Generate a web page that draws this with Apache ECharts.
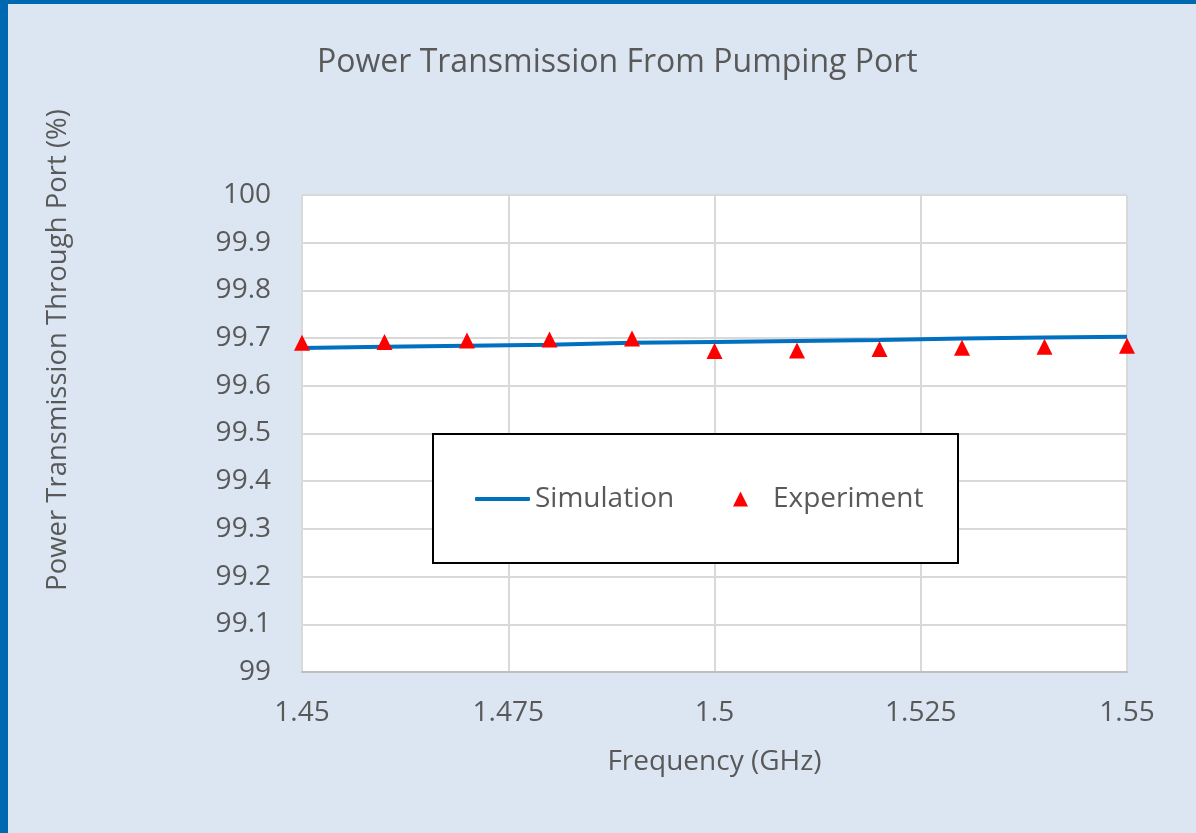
<!DOCTYPE html>
<html>
<head>
<meta charset="utf-8">
<script src="https://cdn.jsdelivr.net/npm/echarts@6/dist/echarts.min.js"></script>
<style>
  html, body { margin: 0; padding: 0; background: #dce6f2; }
  #chart { position: absolute; left: 0; top: 0; width: 1196px; height: 833px; }
  .edge { position: absolute; background: #0068b1; }
</style>
</head>
<body>
<div id="chart"></div>
<div class="edge" style="left:0;top:0;width:1196px;height:4px"></div>
<div class="edge" style="left:0;top:0;width:8px;height:833px"></div>
<script>
const frequency = [1.45, 1.46, 1.47, 1.48, 1.49, 1.50, 1.51, 1.52, 1.53, 1.54, 1.55];
const simulation = [99.679, 99.682, 99.684, 99.686, 99.690, 99.692, 99.694, 99.696, 99.699, 99.701, 99.703];
const experiment = [99.690, 99.692, 99.695, 99.697, 99.699, 99.673, 99.674, 99.677, 99.680, 99.682, 99.684];

const font = '"Open Sans", "Noto Sans", sans-serif';
const grey = '#595959';

const pairs = (xs, ys) => xs.map((x, i) => [x, ys[i]]);

const chart = echarts.init(document.getElementById('chart'));
chart.setOption({
  backgroundColor: '#dce6f2',
  animation: false,
  title: {
    text: 'Power Transmission From Pumping Port',
    left: 317,
    top: 47,
    padding: 0,
    textStyle: { fontFamily: font, fontSize: 32, fontWeight: 'normal', color: grey }
  },
  grid: {
    left: 302, right: 69, top: 195, bottom: 161,
    show: true, backgroundColor: '#ffffff', borderWidth: 0
  },
  xAxis: {
    type: 'value',
    min: 1.45, max: 1.55, interval: 0.025,
    name: 'Frequency (GHz)',
    nameLocation: 'middle',
    nameGap: 76,
    nameTextStyle: { fontFamily: font, fontSize: 28, color: grey },
    axisLine: { lineStyle: { color: '#bfbfbf', width: 2 } },
    axisTick: { show: false },
    axisLabel: { fontFamily: font, fontSize: 28, color: grey, margin: 27 },
    splitLine: { lineStyle: { color: '#d9d9d9', width: 2 } }
  },
  yAxis: {
    type: 'value',
    min: 99, max: 100, interval: 0.1,
    axisLine: { show: false },
    axisTick: { show: false },
    axisLabel: { fontFamily: font, fontSize: 28, color: grey, margin: 31 },
    splitLine: { lineStyle: { color: '#d9d9d9', width: 2 } }
  },
  legend: [{
    data: [{ name: 'Simulation', icon: 'roundRect' }],
    left: 475, top: 485,
    padding: 0,
    itemWidth: 55, itemHeight: 4,
    textStyle: { fontFamily: font, fontSize: 28, color: grey },
    z: 20
  }, {
    data: [{ name: 'Experiment', icon: 'triangle' }],
    left: 733, top: 485,
    padding: 0,
    itemWidth: 15, itemHeight: 15,
    itemStyle: { opacity: 1 },
    textStyle: { fontFamily: font, fontSize: 28, color: grey, padding: [0, 0, 0, 20] },
    z: 20
  }],
  graphic: [{
    type: 'rect',
    z: 10,
    shape: { x: 433, y: 434, width: 525, height: 129 },
    style: { fill: '#ffffff', stroke: '#000000', lineWidth: 2 }
  }, {
    type: 'text',
    x: 58, y: 350,
    rotation: Math.PI / 2,
    style: {
      text: 'Power Transmission Through Port (%)',
      font: '27.5px ' + font,
      fill: grey,
      textAlign: 'center',
      textVerticalAlign: 'middle'
    }
  }],
  series: [{
    name: 'Simulation',
    type: 'line',
    data: pairs(frequency, simulation),
    symbol: 'none',
    lineStyle: { color: '#0070c0', width: 4 },
    itemStyle: { color: '#0070c0' },
    z: 3
  }, {
    name: 'Experiment',
    type: 'scatter',
    data: pairs(frequency, experiment),
    symbol: 'triangle',
    symbolSize: 16,
    itemStyle: { color: '#ff0000', opacity: 1 },
    z: 4
  }]
});
</script>
</body>
</html>
